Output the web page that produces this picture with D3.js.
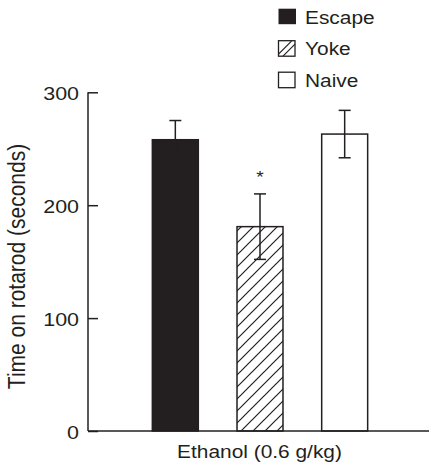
<!DOCTYPE html>
<html>
<head>
<meta charset="utf-8">
<script src="https://cdn.jsdelivr.net/npm/d3@7"></script>
<style>
  html, body { margin: 0; padding: 0; background: #fff; }
  svg { display: block; }
  text { font-family: "Liberation Sans", Arial, sans-serif; fill: #231f20; }
</style>
</head>
<body>
<svg id="chart" width="429" height="467"></svg>
<script>
// Rotarod performance after ethanol, by training group
const categories = ["Escape", "Yoke", "Naive"];
const means = [258, 181, 263];
const sems = [17, 29, 21];
const yTicks = [0, 100, 200, 300];
const significant = [false, true, false];
const xLabel = "Ethanol (0.6 g/kg)";
const yLabel = "Time on rotarod (seconds)";

const ink = "#231f20";
const sx = 1.13; // horizontal widening of the lettering

const svg = d3.select("#chart");

const defs = svg.append("defs");
const hatch = defs.append("pattern")
  .attr("id", "hatch")
  .attr("patternUnits", "userSpaceOnUse")
  .attr("width", 12).attr("height", 12);
hatch.append("rect").attr("width", 12).attr("height", 12).attr("fill", "#fff");
hatch.append("path")
  .attr("d", "M-3,3 L3,-3 M0,12 L12,0 M9,15 L15,9")
  .attr("stroke", ink).attr("stroke-width", 1.2);

const x = d3.scaleBand()
  .domain(categories)
  .range([110, 410])
  .paddingInner(0.457)
  .paddingOuter(0.5);

const y = d3.scaleLinear().domain([0, 300]).range([431, 92.3]);

const fills = { Escape: ink, Yoke: "url(#hatch)", Naive: "#fff" };

// bars
svg.append("g").selectAll("rect")
  .data(categories)
  .join("rect")
  .attr("x", d => x(d))
  .attr("y", (d, i) => y(means[i]))
  .attr("width", x.bandwidth())
  .attr("height", (d, i) => y(0) - y(means[i]))
  .attr("fill", d => fills[d])
  .attr("stroke", ink)
  .attr("stroke-width", 1.5);

// error bars
const eb = svg.append("g").attr("stroke", ink).attr("stroke-width", 1.5);
categories.forEach((c, i) => {
  const cx = x(c) + x.bandwidth() / 2;
  const hi = y(means[i] + sems[i]);
  const lo = y(means[i] - sems[i]);
  eb.append("line").attr("x1", cx).attr("x2", cx).attr("y1", hi).attr("y2", lo);
  eb.append("line").attr("x1", cx - 6).attr("x2", cx + 6).attr("y1", hi).attr("y2", hi);
  eb.append("line").attr("x1", cx - 6).attr("x2", cx + 6).attr("y1", lo).attr("y2", lo);
  if (significant[i]) {
    svg.append("text")
      .attr("transform", `translate(${cx},${hi - 10.5}) scale(${sx},1)`)
      .attr("text-anchor", "middle")
      .attr("font-size", 17)
      .text("*");
  }
});

// y axis
const yAxis = svg.append("g")
  .attr("transform", "translate(88,0)")
  .call(d3.axisRight(y).tickValues(yTicks).tickSize(10).tickFormat(""));
yAxis.select(".domain").remove();
yAxis.selectAll("line").attr("stroke", ink).attr("stroke-width", 1.5);
svg.append("line")
  .attr("x1", 88).attr("x2", 88)
  .attr("y1", y(300)).attr("y2", y(0))
  .attr("stroke", ink).attr("stroke-width", 1.5);

svg.append("g").selectAll("text")
  .data(yTicks)
  .join("text")
  .attr("transform", d => `translate(79,${y(d) + 7.5}) scale(${sx},1)`)
  .attr("text-anchor", "end")
  .attr("font-size", 19)
  .text(d => d);

// baseline
svg.append("line")
  .attr("x1", 88).attr("x2", 429)
  .attr("y1", y(0)).attr("y2", y(0))
  .attr("stroke", ink).attr("stroke-width", 1.5);

// axis titles
svg.append("text")
  .attr("transform", `translate(259.5,458) scale(${sx},1)`)
  .attr("text-anchor", "middle")
  .attr("font-size", 18.5)
  .text(xLabel);

svg.append("text")
  .attr("transform", `translate(25,266.5) scale(${sx},1) rotate(-90)`)
  .attr("text-anchor", "middle")
  .attr("font-size", 21)
  .text(yLabel);

// legend
const legend = svg.append("g");
categories.forEach((c, i) => {
  const top = 8.7 + i * 31.5;
  const g = legend.append("g");
  g.append("rect")
    .attr("x", 278.5).attr("y", top + (i ? 0.5 : 0))
    .attr("width", i ? 16.5 : 17.5).attr("height", 15.5)
    .attr("fill", c === "Escape" ? ink : "#fff")
    .attr("stroke", c === "Escape" ? "none" : ink)
    .attr("stroke-width", 1.3);
  if (c === "Yoke") {
    g.append("path")
      .attr("d", `M278.5,${top + 14} L291.5,${top + 1} M283,${top + 16} L295,${top + 4}`)
      .attr("stroke", ink).attr("stroke-width", 1.2);
  }
  g.append("text")
    .attr("transform", `translate(305,${top + 15}) scale(${sx},1)`)
    .attr("font-size", 18.5)
    .text(c);
});
</script>
</body>
</html>
